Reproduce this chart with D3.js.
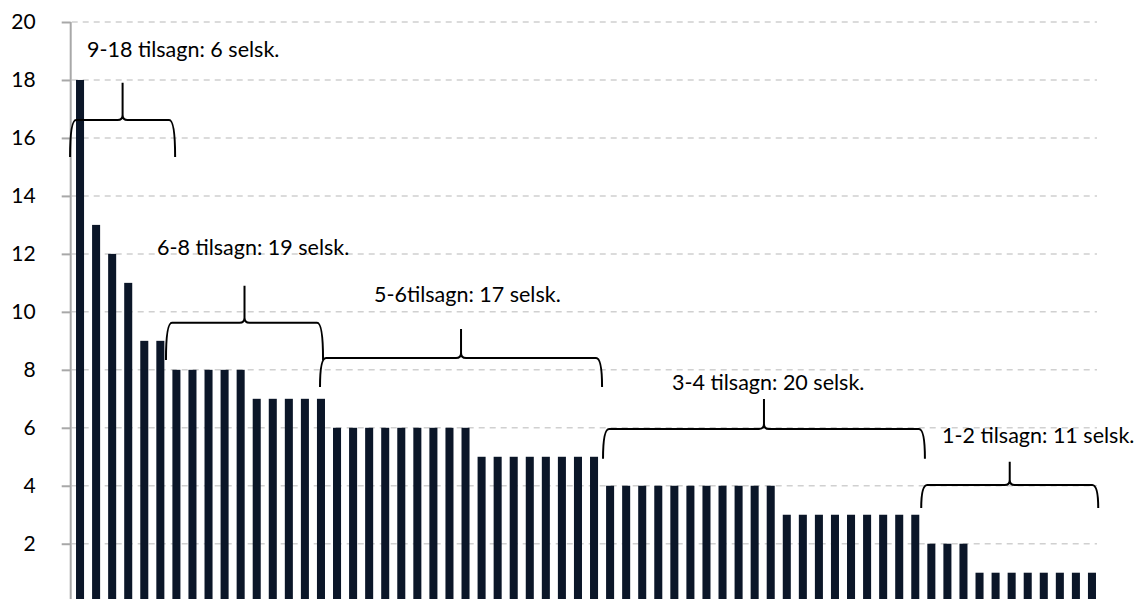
<!DOCTYPE html>
<html><head><meta charset="utf-8">
<script src="https://cdn.jsdelivr.net/npm/d3@7"></script>
<style>
body{margin:0;background:#fff;}
svg{display:block;font-family:Lato,'Open Sans',sans-serif;}
</style>
</head><body>
<svg id="c" width="1136" height="599"></svg>
<script>
// ---- data ----
const values = [18,13,12,11,9,9,
  8,8,8,8,8,
  7,7,7,7,7,
  6,6,6,6,6,6,6,6,6,
  5,5,5,5,5,5,5,5,
  4,4,4,4,4,4,4,4,4,4,4,
  3,3,3,3,3,3,3,3,3,
  2,2,2,
  1,1,1,1,1,1,1,1];
const companies = values.map((v, i) => "Selskab " + (i + 1));
const yTicks = [2,4,6,8,10,12,14,16,18,20];
const groupLabels = ["9-18 tilsagn: 6 selsk.", "6-8 tilsagn: 19 selsk.", "5-6tilsagn: 17 selsk.", "3-4 tilsagn: 20 selsk.", "1-2 tilsagn: 11 selsk."];
// brace anchors, in bar-index units (x) and value units (y)
const braceFrom  = [-0.62, 5.35, 14.94, 32.56, 52.37];
const braceTo    = [5.92, 15.13, 32.5, 52.6, 63.39];
const braceLevel = [16.62, 9.62, 8.41, 5.96, 4.03];
const braceDepth = [1.28, 1.28, 1.0, 1.03, 0.8];
const labelIndex = [0.44, 4.79, 18.3, 36.86, 53.67];
const labelValue = [18.8, 11.96, 10.34, 7.31, 5.48];

// ---- layout ----
const svg = d3.select("#c");
const axisX = 70.7;
const x = d3.scaleBand().domain(companies).range([72, 1100]).paddingInner(0.5).paddingOuter(0.25);
const y = d3.scaleLinear().domain([0, 20]).range([601.7, 22]);
const step = x.step();
const cx0 = x(companies[0]) + x.bandwidth() / 2;
const xi = f => cx0 + f * step;

// gridlines
svg.append("g").selectAll("line").data(yTicks).join("line")
  .attr("x1", axisX + 1).attr("x2", 1097)
  .attr("y1", d => y(d)).attr("y2", d => y(d))
  .attr("stroke", "#d0d0d0").attr("stroke-width", 1.5)
  .attr("stroke-dasharray", "6,5");

// bars
svg.append("g").selectAll("rect").data(values).join("rect")
  .attr("x", (d, i) => x(companies[i]))
  .attr("width", x.bandwidth())
  .attr("y", d => y(d))
  .attr("height", d => y(0) - y(d))
  .attr("fill", "#0b1628");

// y axis
const yAxis = d3.axisLeft(y).tickValues(yTicks).tickSize(9).tickPadding(26).tickFormat(d3.format("d"));
const ag = svg.append("g").attr("transform", `translate(${axisX},0)`).call(yAxis);
ag.select(".domain").remove();
ag.append("line").attr("x1", 0).attr("x2", 0).attr("y1", y(20)).attr("y2", 599)
  .attr("stroke", "#a8a8a8").attr("stroke-width", 2);
ag.selectAll(".tick line").attr("stroke", "#a8a8a8").attr("stroke-width", 2);
ag.selectAll(".tick text").attr("font-size", 21).attr("fill", "#000")
  .attr("font-family", "Lato,'Open Sans',sans-serif");

// braces
function bracePath(i) {
  const x1 = xi(braceFrom[i]), x2 = xi(braceTo[i]);
  const xm = (x1 + x2) / 2;
  const yh = y(braceLevel[i]);
  const yb = y(braceLevel[i] - braceDepth[i]);
  const yt = y(braceLevel[i] + braceDepth[i]);
  const r = 6, rm = 5;
  return `M${x1},${yb} Q${x1},${yh} ${x1 + r},${yh} L${xm - rm},${yh} Q${xm},${yh} ${xm},${yh - rm} L${xm},${yt}` +
         ` M${xm},${yh - rm} Q${xm},${yh} ${xm + rm},${yh} L${x2 - r},${yh} Q${x2},${yh} ${x2},${yb}`;
}
svg.append("g").selectAll("path").data(groupLabels).join("path")
  .attr("d", (d, i) => bracePath(i))
  .attr("fill", "none").attr("stroke", "#000").attr("stroke-width", 2);

// labels
svg.append("g").selectAll("text").data(groupLabels).join("text")
  .attr("x", (d, i) => xi(labelIndex[i]))
  .attr("y", (d, i) => y(labelValue[i]))
  .attr("font-size", 21.5).attr("fill", "#000")
  .text(d => d);
</script>
</body></html>
